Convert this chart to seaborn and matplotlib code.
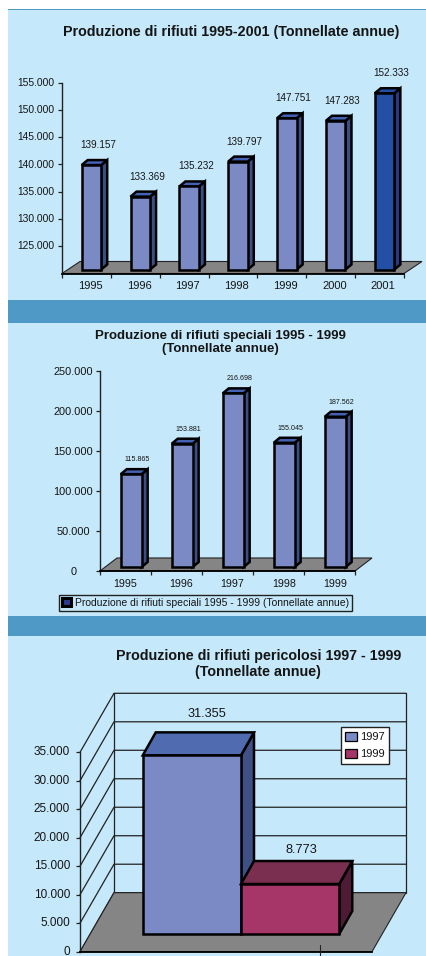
import matplotlib
matplotlib.use("Agg")
import matplotlib.pyplot as plt
import seaborn as sns
from matplotlib.lines import Line2D
from matplotlib.patches import Patch, Polygon, Rectangle
from matplotlib.transforms import Affine2D, IdentityTransform

# Produzione di rifiuti 1995-2001
years_total = ["1995", "1996", "1997", "1998", "1999", "2000", "2001"]
values_total = [139157, 133369, 135232, 139797, 147751, 147283, 152333]
labels_total = ["139.157", "133.369", "135.232", "139.797", "147.751", "147.283", "152.333"]
ticks_total = [125000, 130000, 135000, 140000, 145000, 150000, 155000]
ticklabels_total = ["125.000", "130.000", "135.000", "140.000", "145.000", "150.000", "155.000"]

# Rifiuti speciali 1995-1999
years_special = ["1995", "1996", "1997", "1998", "1999"]
values_special = [115865, 153881, 216698, 155045, 187562]
labels_special = ["115.865", "153.881", "216.698", "155.045", "187.562"]
ticks_special = [0, 50000, 100000, 150000, 200000, 250000]
ticklabels_special = ["0", "50.000", "100.000", "150.000", "200.000", "250.000"]

# Rifiuti pericolosi 1997-1999
years_danger = ["1997", "1999"]
values_danger = [31355, 8773]
labels_danger = ["31.355", "8.773"]
ticks_danger = [0, 5000, 10000, 15000, 20000, 25000, 30000, 35000]
ticklabels_danger = ["0", "5.000", "10.000", "15.000", "20.000", "25.000", "30.000", "35.000"]

W, H = 427, 956
PANEL = "#c5e8fa"
STRIP = "#4e99c6"
FLOOR = "#858585"
BLUE = "#7b8ac4"
DARK = "#2350a5"
WINE = "#a63668"
INK = "#151515"


def px_axes(fig, left, top, right, bottom):
    ax = fig.add_axes([left / W, 1 - bottom / H, (right - left) / W, (bottom - top) / H])
    ax.set_facecolor("none")
    return ax


def px_rect(fig, left, top, right, bottom, color):
    fig.add_artist(Rectangle((left / W, 1 - bottom / H), (right - left) / W, (bottom - top) / H,
                             transform=fig.transFigure, color=color, lw=0, zorder=-5))


def px_text(fig, x, y, s, size, weight="normal", ha="center"):
    fig.text(x / W, 1 - y / H, s, fontsize=size, fontweight=weight, ha=ha, va="center",
             color=INK, linespacing=1.22)


def extrude(ax, bar, shift, depth, side, top, lw, z=3):
    """Turn a flat seaborn bar into a box, offsets are in pixels."""
    bar.set_transform(ax.transData + Affine2D().translate(*shift))
    bar.set_clip_on(False)
    bar.set_zorder(z)
    bar.set_edgecolor("black")
    bar.set_linewidth(lw)
    x0, y0 = ax.transData.transform((bar.get_x(), bar.get_y()))
    x1, y1 = ax.transData.transform((bar.get_x() + bar.get_width(), bar.get_y() + bar.get_height()))
    x0, x1 = x0 + shift[0], x1 + shift[0]
    y0, y1 = y0 + shift[1], y1 + shift[1]
    dx, dy = depth
    ax.add_patch(Polygon([(x1, y0), (x1 + dx, y0 + dy), (x1 + dx, y1 + dy), (x1, y1)], closed=True,
                         transform=IdentityTransform(), fc=side, ec="black", lw=lw, clip_on=False, zorder=z - 0.1))
    ax.add_patch(Polygon([(x0, y1), (x1, y1), (x1 + dx, y1 + dy), (x0 + dx, y1 + dy)], closed=True,
                         transform=IdentityTransform(), fc=top, ec="black", lw=lw, clip_on=False, zorder=z - 0.1))


def add_floor(ax, depth):
    x0, y0 = ax.transAxes.transform((0, 0))
    x1, _ = ax.transAxes.transform((1, 0))
    dx, dy = depth
    ax.add_patch(Polygon([(x0, y0), (x1, y0), (x1 + dx, y0 + dy), (x0 + dx, y0 + dy)], closed=True,
                         transform=IdentityTransform(), fc=FLOOR, ec="#222222", lw=0.8, clip_on=False, zorder=0.5))


def style_axes(ax, size_y, size_x, pad_y=3):
    sns.despine(ax=ax)
    ax.set_xlabel("")
    ax.set_ylabel("")
    ax.spines["left"].set_color("#222222")
    ax.spines["left"].set_linewidth(1.0)
    ax.spines["bottom"].set_color("black")
    ax.spines["bottom"].set_linewidth(1.3)
    ax.tick_params(axis="y", left=True, length=2.6, width=0.9, color="#222222", labelsize=size_y, pad=pad_y,
                   labelcolor=INK)
    ax.tick_params(axis="x", which="major", length=0, labelsize=size_x, pad=5.5, labelcolor=INK)
    ax.tick_params(axis="x", which="minor", bottom=True, length=2.6, width=0.9, color="#222222")


def raise_ylabels(ax, lift):
    for lab in ax.get_yticklabels():
        lab.set_transform(lab.get_transform() + Affine2D().translate(0, lift))


def column_chart(ax, years, values, labels, ticks, ticklabels, ymin, ymax, palette, width, shift, depth,
                 floor, lift, nudges, sizes, sides, tops):
    sns.barplot(x=years, y=values, hue=years, palette=palette, width=width, errorbar=None,
                legend=False, ax=ax, saturation=1)
    ax.set_xlim(-0.5, len(years) - 0.5)
    ax.set_ylim(ymin, ymax)
    ax.set_yticks(ticks, ticklabels)
    ax.set_xticks([i - 0.5 for i in range(len(years) + 1)], minor=True)
    style_axes(ax, sizes[0], sizes[1])
    add_floor(ax, floor)
    bars = [b for c in ax.containers for b in c]
    for i, bar in enumerate(bars):
        bar.set_height(values[i] - ymin)
        bar.set_y(ymin)
        extrude(ax, bar, shift, depth, sides[i], tops[i], 1.8)
        ax.annotate(labels[i], (bar.get_x() + bar.get_width() / 2, values[i]), xycoords="data",
                    xytext=(shift[0] + lift[0], shift[1] + lift[1]), textcoords="offset pixels",
                    ha="center", va="center", fontsize=sizes[2], color=INK, annotation_clip=False, zorder=6)
    for lab, nudge in zip(ax.get_xticklabels(), nudges):
        lab.set_transform(lab.get_transform() + Affine2D().translate(nudge, 0))


sns.set_theme(style="white")
plt.rcParams["font.family"] = ["Liberation Sans", "DejaVu Sans"]

fig = plt.figure(figsize=(W / 100, H / 100), dpi=100, facecolor="white")

px_rect(fig, 8, 9, W, 956, PANEL)
px_rect(fig, 8, 9, W, 10, STRIP)
px_rect(fig, 8, 300, W, 323, STRIP)
px_rect(fig, 8, 616, W, 636, STRIP)

px_text(fig, 231, 32, "Produzione di rifiuti 1995-2001 (Tonnellate annue)", 10.25, "bold")
px_text(fig, 220, 342.5, "Produzione di rifiuti speciali 1995 - 1999\n(Tonnellate annue)", 9.5, "bold")
px_text(fig, 258.3, 664, "Produzione di rifiuti pericolosi 1997 - 1999\n(Tonnellate annue)", 10.25, "bold")

# top chart
ax1 = px_axes(fig, 62, 82.7, 404, 273.5)
column_chart(ax1, years_total, values_total, labels_total, ticks_total, ticklabels_total, 120000, 155000,
             [BLUE] * 6 + [DARK], 0.4, (5, 4), (6, 5), (18, 12), (6.5, 20), [3.7] * 7, (7.4, 8, 7.1),
             ["#3c4f85"] * 6 + ["#2a3a80"], ["#4462b4"] * 6 + ["#2350a5"])
raise_ylabels(ax1, 0.8)

# middle chart
ax2 = px_axes(fig, 100, 370.7, 355, 571)
column_chart(ax2, years_special, values_special, labels_special, ticks_special, ticklabels_special, 0, 250000,
             [BLUE] * 5, 0.41, (5.7, 4), (6, 5), (17, 13), (6, 14.5), [0, 5, 5, 5.5, 5.5], (7.9, 7.7, 5.1),
             ["#3c4f85"] * 5, ["#4462b4"] * 5)
raise_ylabels(ax2, 1.5)
# these tick labels are centred on one column in the original
ax2.tick_params(axis="y", pad=16.5)
for lab in ax2.get_yticklabels():
    lab.set_ha("center")
ax2.legend(handles=[Patch(fc="#2a3a90", ec="black", lw=2.2,
                          label="Produzione di rifiuti speciali 1995 - 1999 (Tonnellate annue)")],
           loc="upper left", bbox_to_anchor=(58.7 / W, 1 - 594.7 / H), bbox_transform=fig.transFigure,
           fancybox=False, framealpha=1, facecolor=PANEL, edgecolor="#222222", fontsize=7.45, borderpad=0.3,
           handlelength=0.85, handleheight=0.85, handletextpad=0.4, labelcolor=INK, borderaxespad=0)

# bottom chart, one group of two touching boxes inside a walled box
ax3 = px_axes(fig, 80, 752.3, 372, 951.7)
sns.barplot(x=[""] * 2, y=values_danger, hue=years_danger, palette=[BLUE, WINE], width=0.673, gap=0,
            errorbar=None, legend=False, ax=ax3, saturation=1)
ax3.set_xlim(-0.5, 0.5)
ax3.set_ylim(0, 35000)
ax3.set_yticks(ticks_danger, ticklabels_danger)
style_axes(ax3, 8.5, 8, pad_y=4.5)
ax3.set_xticks([])
raise_ylabels(ax3, 1.5)
wall = (34, 59)
add_floor(ax3, wall)
x_left, _ = ax3.transAxes.transform((0, 0))
x_right, _ = ax3.transAxes.transform((1, 0))
for tick in ticks_danger:
    _, y = ax3.transData.transform((0, tick))
    ax3.add_line(Line2D([x_left, x_left + wall[0], x_right + wall[0]], [y, y + wall[1], y + wall[1]],
                        transform=IdentityTransform(), color="#222222", lw=0.9, clip_on=False, zorder=0.4))
_, y_base = ax3.transData.transform((0, 0))
_, y_top = ax3.transData.transform((0, 35000))
for x_wall in (x_left + wall[0], x_right + wall[0]):
    ax3.add_line(Line2D([x_wall, x_wall], [y_base + wall[1], y_top + wall[1]],
                        transform=IdentityTransform(), color="#222222", lw=0.9, clip_on=False, zorder=0.4))
sides = ["#3f5086", "#4e1a35"]
tops = ["#516bb0", "#7a2e50"]
label_lift = [(15, 41.7), (11.5, 34.3)]
bars3 = [b for c in ax3.containers for b in c]
for i, bar in enumerate(bars3):
    extrude(ax3, bar, (15, 17.7), (13, 23), sides[i], tops[i], 1.8, z=3 + i)
    ax3.annotate(labels_danger[i], (bar.get_x() + bar.get_width() / 2, values_danger[i]), xycoords="data",
                 xytext=(15 + label_lift[i][0], 17.7 + label_lift[i][1]), textcoords="offset pixels", ha="center",
                 va="center", fontsize=9.2, color=INK, annotation_clip=False, zorder=6)
ax3.legend(handles=[Patch(fc=BLUE, ec="black", lw=0.9, label=years_danger[0]),
                    Patch(fc=WINE, ec="black", lw=0.9, label=years_danger[1])],
           loc="upper left", bbox_to_anchor=(341 / W, 1 - 727.3 / H), bbox_transform=fig.transFigure,
           fancybox=False, framealpha=1, facecolor="white", edgecolor="#222222", fontsize=8, borderpad=0.4,
           handlelength=1.0, handleheight=0.9, handletextpad=0.3, labelcolor=INK, borderaxespad=0, labelspacing=0.6)
fig.add_artist(Line2D([320 / W, 320 / W], [1 - 945 / H, 1 - 956 / H], transform=fig.transFigure, color="#222222", lw=0.8))

fig.savefig("out.png", dpi=100, facecolor="white")
